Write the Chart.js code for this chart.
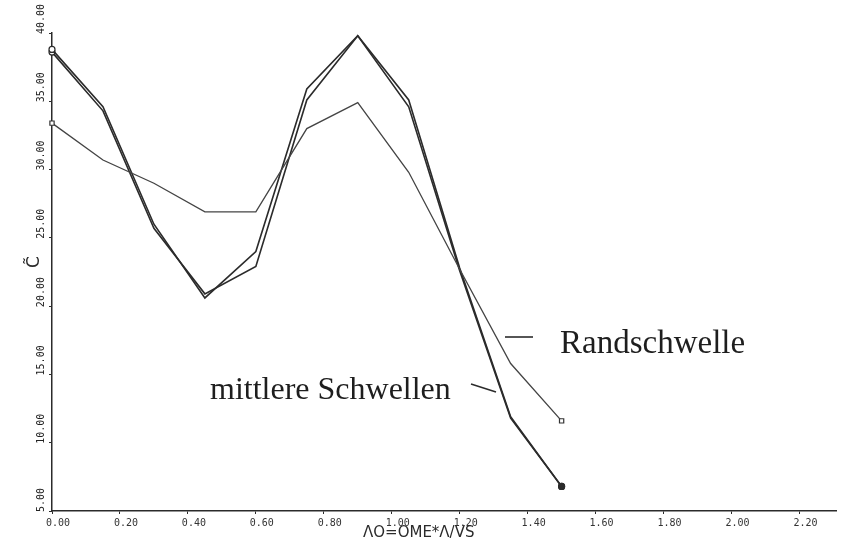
<!DOCTYPE html>
<html>
<head>
<meta charset="utf-8">
<script src="https://cdn.jsdelivr.net/npm/chart.js@4"></script>
<style>
    html, body { margin: 0; padding: 0; background: #fff; }
    #wrap { width: 842px; height: 539px; position: relative; }
</style>
</head>
<body>
<div id="wrap"><canvas id="chart"></canvas></div>
<script>
// abscissa values (AO = OME*A/VS)
const xValues = [0.00, 0.15, 0.30, 0.45, 0.60, 0.75, 0.90, 1.05, 1.20, 1.35, 1.50];

// Randschwelle (thin line, square markers)
const randSchwelle = [33.4, 30.7, 29.0, 26.9, 26.9, 33.0, 34.9, 29.8, 22.7, 15.8, 11.6];

// mittlere Schwellen (two nearly identical heavy lines)
const mittlereA = [38.8, 34.6, 26.0, 20.6, 24.0, 35.9, 39.8, 35.1, 22.8, 11.9, 6.8];
const mittlereB = [38.6, 34.3, 25.7, 20.9, 22.9, 35.1, 39.8, 34.6, 22.6, 11.8, 6.8];

// axes
const xMin = 0, xMax = 2.31, xStep = 0.2;
const yMin = 5, yMax = 40, yStep = 5;
const xTitle = 'ΛO=OME*Λ/VS';
const yTitle = 'C\u0303';

const ink = '#2b2b2b';

function toPoints(ys) {
    return ys.map((y, i) => ({ x: xValues[i], y: y }));
}

// nur Anfangs- und Endpunkt markieren
function endRadius(ctx) {
    const last = ctx.dataset.data.length - 1;
    return (ctx.dataIndex === 0 || ctx.dataIndex === last) ? 3 : 0;
}

function endFill(fillLast) {
    return function (ctx) {
        const last = ctx.dataset.data.length - 1;
        return (fillLast && ctx.dataIndex === last) ? ink : '#fff';
    };
}

// Beschriftungen, Achsentitel, gedrehte y-Ticks
const textPlugin = {
    id: 'texte',
    afterDraw(chart) {
        const c = chart.ctx;
        const yScale = chart.scales.y;
        c.save();
        c.fillStyle = ink;
        c.strokeStyle = ink;

        // y tick labels, von unten nach oben gelesen (Chart.js schneidet sie sonst ab)
        c.font = '10px "DejaVu Sans Mono"';
        c.fillStyle = '#222';
        c.textAlign = 'left';
        c.textBaseline = 'middle';
        yScale.ticks.forEach(t => {
            const py = yScale.getPixelForValue(t.value);
            c.save();
            c.translate(41, py + 1);
            c.rotate(-Math.PI / 2);
            c.fillText(Number(t.value).toFixed(2), 0, 0);
            c.restore();
        });
        c.fillStyle = ink;

        // x title
        c.font = '15px "DejaVu Sans"';
        c.textAlign = 'left';
        c.textBaseline = 'alphabetic';
        c.fillText(xTitle, 363, 537);

        // y title (rotated)
        c.save();
        c.translate(35, 262);
        c.rotate(-Math.PI / 2);
        c.font = '17px "DejaVu Sans"';
        c.textAlign = 'center';
        c.textBaseline = 'middle';
        c.fillText(yTitle, 0, 0);
        c.restore();

        // Randschwelle
        c.font = '33px "Liberation Serif"';
        c.textAlign = 'left';
        c.textBaseline = 'alphabetic';
        c.fillStyle = '#1e1e1e';
        c.fillText('Randschwelle', 560, 353);
        c.lineWidth = 1.6;
        c.beginPath();
        c.moveTo(505, 337);
        c.lineTo(533, 337);
        c.stroke();

        // mittlere Schwellen
        c.font = '32px "Liberation Serif"';
        c.fillText('mittlere Schwellen', 210, 399);
        c.beginPath();
        c.moveTo(471, 384);
        c.lineTo(496, 392);
        c.stroke();

        c.restore();
    }
};

const tickFont = { family: '"DejaVu Sans Mono"', size: 10 };

new Chart(document.getElementById('chart'), {
    type: 'line',
    data: {
        datasets: [
            {
                label: 'Randschwelle',
                data: toPoints(randSchwelle),
                borderColor: '#444',
                borderWidth: 1.3,
                pointStyle: 'rect',
                pointRadius: endRadius,
                pointBackgroundColor: '#fff',
                pointBorderColor: '#333',
                pointBorderWidth: 1.2,
                tension: 0,
                clip: false
            },
            {
                label: 'mittlere Schwellen A',
                data: toPoints(mittlereA),
                borderColor: ink,
                borderWidth: 1.6,
                pointStyle: 'circle',
                pointRadius: endRadius,
                pointBackgroundColor: endFill(true),
                pointBorderColor: ink,
                pointBorderWidth: 1.2,
                tension: 0,
                clip: false
            },
            {
                label: 'mittlere Schwellen B',
                data: toPoints(mittlereB),
                borderColor: ink,
                borderWidth: 1.6,
                pointStyle: 'circle',
                pointRadius: endRadius,
                pointBackgroundColor: endFill(true),
                pointBorderColor: ink,
                pointBorderWidth: 1.2,
                tension: 0,
                clip: false
            }
        ]
    },
    options: {
        responsive: true,
        maintainAspectRatio: false,
        animation: false,
        layout: { padding: { left: 42, top: 33, right: 5, bottom: 0 } },
        plugins: {
            legend: { display: false },
            tooltip: { enabled: false }
        },
        scales: {
            x: {
                type: 'linear',
                min: xMin,
                max: xMax,
                afterFit(scale) { scale.height = 28; },
                grid: { drawOnChartArea: false, tickLength: 3, color: ink },
                border: { color: ink, width: 1.5 },
                ticks: {
                    stepSize: xStep,
                    includeBounds: false,
                    autoSkip: false,
                    maxRotation: 0,
                    padding: 3,
                    labelOffset: 6,
                    color: '#333',
                    font: tickFont,
                    callback: v => Number(v).toFixed(2)
                }
            },
            y: {
                type: 'linear',
                min: yMin,
                max: yMax,
                afterFit(scale) { scale.width = 10; },
                grid: { drawOnChartArea: false, tickLength: 3, color: ink },
                border: { color: ink, width: 1.5 },
                ticks: {
                    stepSize: yStep,
                    autoSkip: false,
                    display: false
                }
            }
        }
    },
    plugins: [textPlugin]
});
</script>
</body>
</html>
